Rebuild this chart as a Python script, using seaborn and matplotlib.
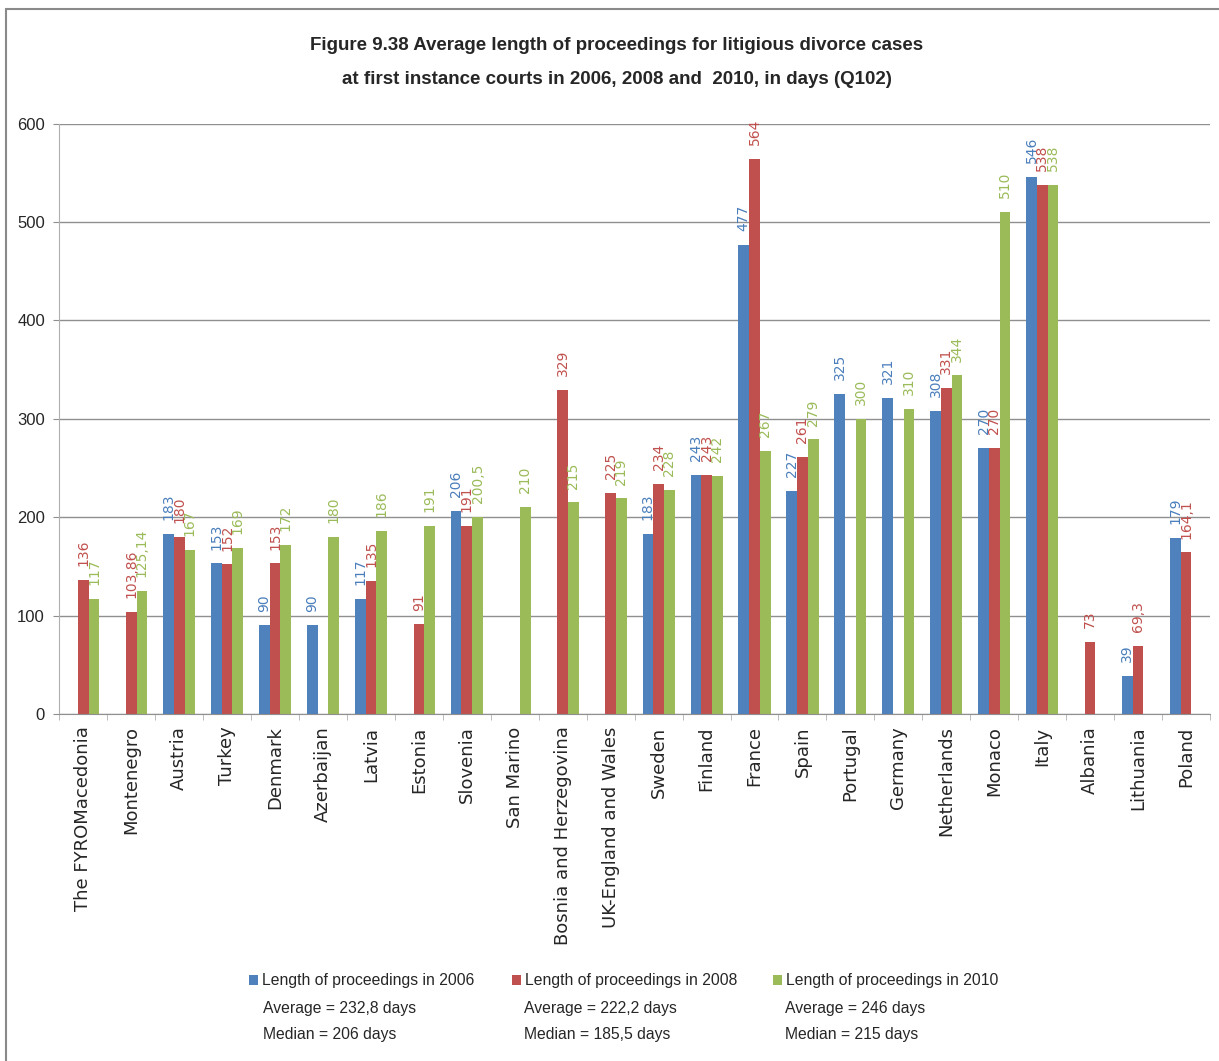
import matplotlib
matplotlib.use("Agg")
import matplotlib.pyplot as plt
from matplotlib import font_manager as fm
from matplotlib.lines import Line2D
from matplotlib.patches import Patch
from matplotlib.ticker import FixedLocator
import numpy as np
import pandas as pd
import seaborn as sns

# ---------------- data ----------------
countries = ["The FYROMacedonia", "Montenegro", "Austria", "Turkey", "Denmark",
             "Azerbaijan", "Latvia", "Estonia", "Slovenia", "San Marino",
             "Bosnia and Herzegovina", "UK-England and Wales", "Sweden", "Finland",
             "France", "Spain", "Portugal", "Germany", "Netherlands", "Monaco",
             "Italy", "Albania", "Lithuania", "Poland"]
nan = np.nan
v2006 = [nan, nan, 183, 153, 90, 90, 117, nan, 206, nan, nan, nan,
         183, 243, 477, 227, 325, 321, 308, 270, 546, nan, 39, 179]
v2008 = [136, 103.86, 180, 152, 153, nan, 135, 91, 191, nan, 329, 225,
         234, 243, 564, 261, nan, nan, 331, 270, 538, 73, 69.3, 164.1]
v2010 = [117, 125.14, 167, 169, 172, 180, 186, 191, 200.5, 210, 215, 219,
         228, 242, 267, 279, 300, 310, 344, 510, 538, nan, nan, nan]
series = ["Length of proceedings in 2006", "Length of proceedings in 2008",
          "Length of proceedings in 2010"]
series_notes = [["Average = 232,8 days", "Median = 206 days"],
                ["Average = 222,2 days", "Median = 185,5 days"],
                ["Average = 246 days", "Median = 215 days"]]
colors = ["#4F81BD", "#C0504D", "#9BBB59"]
label_colors = ["#4A7EBB", "#C0504D", "#9BBB59"]
title_lines = ["Figure 9.38 Average length of proceedings for litigious divorce cases",
               "at first instance courts in 2006, 2008 and  2010, in days (Q102)"]
yticks = [0, 100, 200, 300, 400, 500, 600]

# ---------------- fonts ----------------
avail = {f.name for f in fm.fontManager.ttflist}
narrow = "Liberation Sans Narrow" if "Liberation Sans Narrow" in avail else "Liberation Sans"
xfont = "DejaVu Sans"

sns.set_style("white")
plt.rcParams["font.family"] = ["DejaVu Sans"]

rows = []
for s, vals in zip(series, [v2006, v2008, v2010]):
    for c, v in zip(countries, vals):
        rows.append({"country": c, "series": s, "value": v})
df = pd.DataFrame(rows).dropna()

W, H = 1219, 1061
fig = plt.figure(figsize=(W / 100, H / 100), dpi=100)
x0, x1, yb, yt = 59.3, 1210, 714, 123.5
ax = fig.add_axes([x0 / W, (H - yb) / H, (x1 - x0) / W, (yb - yt) / H])

sns.barplot(data=df, x="country", y="value", hue="series", order=countries,
            hue_order=series, palette=colors, saturation=1, width=0.67,
            errorbar=None, legend=False, ax=ax, linewidth=0)

# value labels
def fmt(v):
    return f"{v:g}".replace(".", ",")

for cont, lc in zip(ax.containers, label_colors):
    labs = [fmt(b.get_height()) for b in cont]
    ax.bar_label(cont, labels=labs, rotation=90, padding=10, color=lc,
                 fontsize=10, family="DejaVu Sans")

# axes styling
ax.set_xlim(-0.5, len(countries) - 0.5)
ax.set_ylim(0, 600)
ax.set_yticks(yticks)
ax.set_yticklabels([str(t) for t in yticks], family=narrow, fontsize=12)
ax.yaxis.grid(True, color="#8F8F8F", lw=1)
ax.set_axisbelow(True)
for s in ["top", "right"]:
    ax.spines[s].set_visible(False)
ax.spines["bottom"].set_color("#8F8F8F")
ax.spines["left"].set_color("#B0B0B0")
ax.spines["left"].set_linewidth(0.8)
ax.tick_params(axis="y", length=4.3, color="#8F8F8F", pad=6, left=True)
ax.set_xlabel("")
ax.set_ylabel("")
ax.set_xticks(range(len(countries)))
ax.set_xticklabels(countries, rotation=90, family=xfont, fontsize=13, va="top")
ax.tick_params(axis="x", which="major", length=0, pad=9, bottom=True)
ax.xaxis.set_minor_locator(FixedLocator(np.arange(-0.5, len(countries), 1.0)))
ax.tick_params(axis="x", which="minor", length=4.3, color="#AFAFAF", bottom=True)

# title
fig.text(617 / W, 1 - 45 / H, title_lines[0], ha="center", va="center",
         family=narrow, fontweight="bold", fontsize=13.5)
fig.text(617 / W, 1 - 80 / H, title_lines[1], ha="center", va="center",
         family=narrow, fontweight="bold", fontsize=13.5)

# legend
leg_x = [249, 512, 773]
text_x = [263, 524, 785]
line_y = [981, 1008, 1035]
for i in range(3):
    handle = Patch(facecolor=colors[i], edgecolor="none")
    fig.legend([handle], [series[i]], loc="center left",
               bbox_to_anchor=(leg_x[i] / W, 1 - line_y[0] / H),
               frameon=False, handlelength=0.6, handleheight=0.6,
               handletextpad=0.25, borderpad=0, borderaxespad=0,
               prop={"family": narrow, "size": 11.3})
    for j, note in enumerate(series_notes[i]):
        fig.text(text_x[i] / W, 1 - line_y[j + 1] / H, note, ha="left",
                 va="center", family=narrow, fontsize=11.3)

# outer border (top and left visible)
fig.add_artist(Line2D([6 / W, 6 / W], [0, 1 - 9 / H], transform=fig.transFigure,
                      color="#8A8A8A", lw=1.5))
fig.add_artist(Line2D([6 / W, 1], [1 - 9 / H, 1 - 9 / H], transform=fig.transFigure,
                      color="#8A8A8A", lw=1.5))

fig.savefig("out.png", dpi=100)
